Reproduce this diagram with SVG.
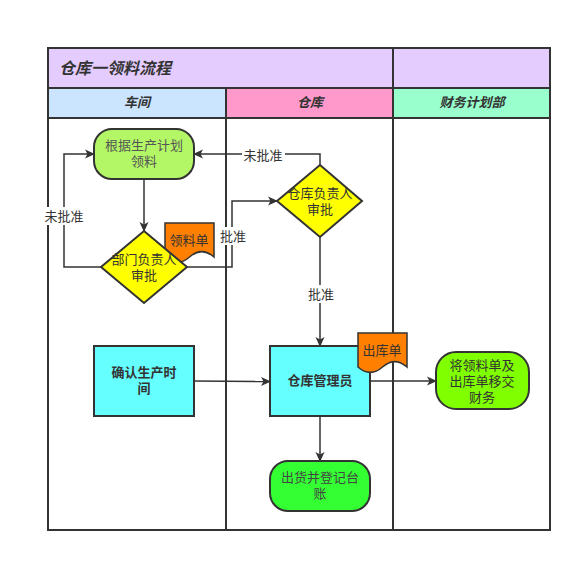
<svg xmlns="http://www.w3.org/2000/svg" width="582" height="562" viewBox="0 0 582 562">
<defs>
<marker id="arr" markerWidth="10" markerHeight="10" refX="9" refY="5" orient="auto" markerUnits="userSpaceOnUse">
<path d="M0,0.5 L10,5 L0,9.5 L2.5,5 Z" fill="#333"/>
</marker>
<style>
text{font-family:"Liberation Sans","Noto Sans CJK SC",sans-serif;font-size:13px;fill:#333;text-anchor:middle}
.hd{font-style:italic;font-weight:bold;font-size:13px}
.title{font-style:italic;font-weight:bold;font-size:16px;text-anchor:start}
.lane{stroke:#333;stroke-width:2}
.n{stroke:#333;stroke-width:2}
.c{fill:none;stroke:#333;stroke-width:1.5;marker-end:url(#arr)}
.lbl{fill:#fff;stroke:none}
</style>
</defs>
<rect width="582" height="562" fill="#fff"/>
<g id="pool">
<rect x="48" y="48" width="502" height="482" fill="#fff" class="lane"/>
<rect x="48" y="48" width="345" height="40" fill="#E5CCFF" class="lane"/>
<rect x="393" y="48" width="157" height="40" fill="#E5CCFF" class="lane"/>
<rect x="48" y="88" width="178" height="30" fill="#CCE5FF" class="lane"/>
<rect x="226" y="88" width="167" height="30" fill="#FF99CC" class="lane"/>
<rect x="393" y="88" width="157" height="30" fill="#99FFCC" class="lane"/>
<line x1="226" y1="118" x2="226" y2="530" class="lane"/>
<line x1="393" y1="118" x2="393" y2="530" class="lane"/>
<text x="59" y="74" class="title">仓库一领料流程</text>
<text x="137" y="107" class="hd">车间</text>
<text x="310" y="107" class="hd">仓库</text>
<text x="472" y="107" class="hd">财务计划部</text>
</g>
<g id="connectors">
<path d="M144,179 V231" class="c"/>
<path d="M101,267 H64 V154 H94" class="c"/>
<path d="M187,267 H232 V201 H277" class="c"/>
<path d="M320,165 V154 H194" class="c"/>
<path d="M320,237 V346" class="c"/>
<path d="M194,381 L270,381.5" class="c"/>
<path d="M370,381 H436" class="c"/>
<path d="M320,416 V461" class="c"/>
<rect x="43" y="207" width="43" height="18" class="lbl"/>
<text x="64" y="221">未批准</text>
<rect x="218" y="227" width="29" height="18" class="lbl"/>
<text x="233" y="241">批准</text>
<rect x="242" y="146" width="43" height="18" class="lbl"/>
<text x="263" y="160">未批准</text>
<rect x="305" y="285" width="30" height="18" class="lbl"/>
<text x="321" y="299">批准</text>
</g>
<g id="n1">
<rect x="94" y="129" width="100" height="50" rx="18" fill="#B3F766" class="n"/>
<text x="144" y="150" style="fill:#555">根据生产计划</text>
<text x="144" y="166" style="fill:#555">领料</text>
</g>
<g id="n3">
<path d="M165,223 H214 V257 Q201.75,246.2 189.5,257 Q177.25,267.8 165,257 Z" fill="#FF8000" stroke="#333" stroke-width="1.5"/>
<text x="189" y="245">领料单</text>
</g>
<g id="n2">
<path d="M144,231 L187,267 L144,303 L101,267 Z" fill="#FFFF00" class="n"/>
<text x="144" y="264">部门负责人</text>
<text x="144" y="280">审批</text>
</g>
<g id="n4">
<path d="M320,165 L362,201 L320,237 L277,201 Z" fill="#FFFF00" class="n"/>
<text x="320" y="198">仓库负责人</text>
<text x="320" y="214">审批</text>
</g>
<g id="n5">
<rect x="94" y="346" width="100" height="70" fill="#66FFFF" class="n"/>
<text x="144" y="377" style="font-weight:bold">确认生产时</text>
<text x="144" y="393" style="font-weight:bold">间</text>
</g>
<g id="n6">
<rect x="270" y="346" width="100" height="70" fill="#66FFFF" class="n"/>
<text x="320" y="385" style="font-weight:bold">仓库管理员</text>
</g>
<g id="n7">
<path d="M358,333 H407 V367 Q394.75,356.2 382.5,367 Q370.25,377.8 358,367 Z" fill="#FF8000" stroke="#333" stroke-width="1.5"/>
<text x="382" y="355">出库单</text>
</g>
<g id="n8">
<rect x="436" y="352" width="93" height="57" rx="20" fill="#80FF00" class="n"/>
<text x="482" y="370">将领料单及</text>
<text x="482" y="386">出库单移交</text>
<text x="482" y="402">财务</text>
</g>
<g id="n9">
<rect x="270" y="461" width="100" height="50" rx="18" fill="#33FF33" class="n"/>
<text x="320" y="482" style="fill:#444">出货并登记台</text>
<text x="320" y="498" style="fill:#444">账</text>
</g>
</svg>
